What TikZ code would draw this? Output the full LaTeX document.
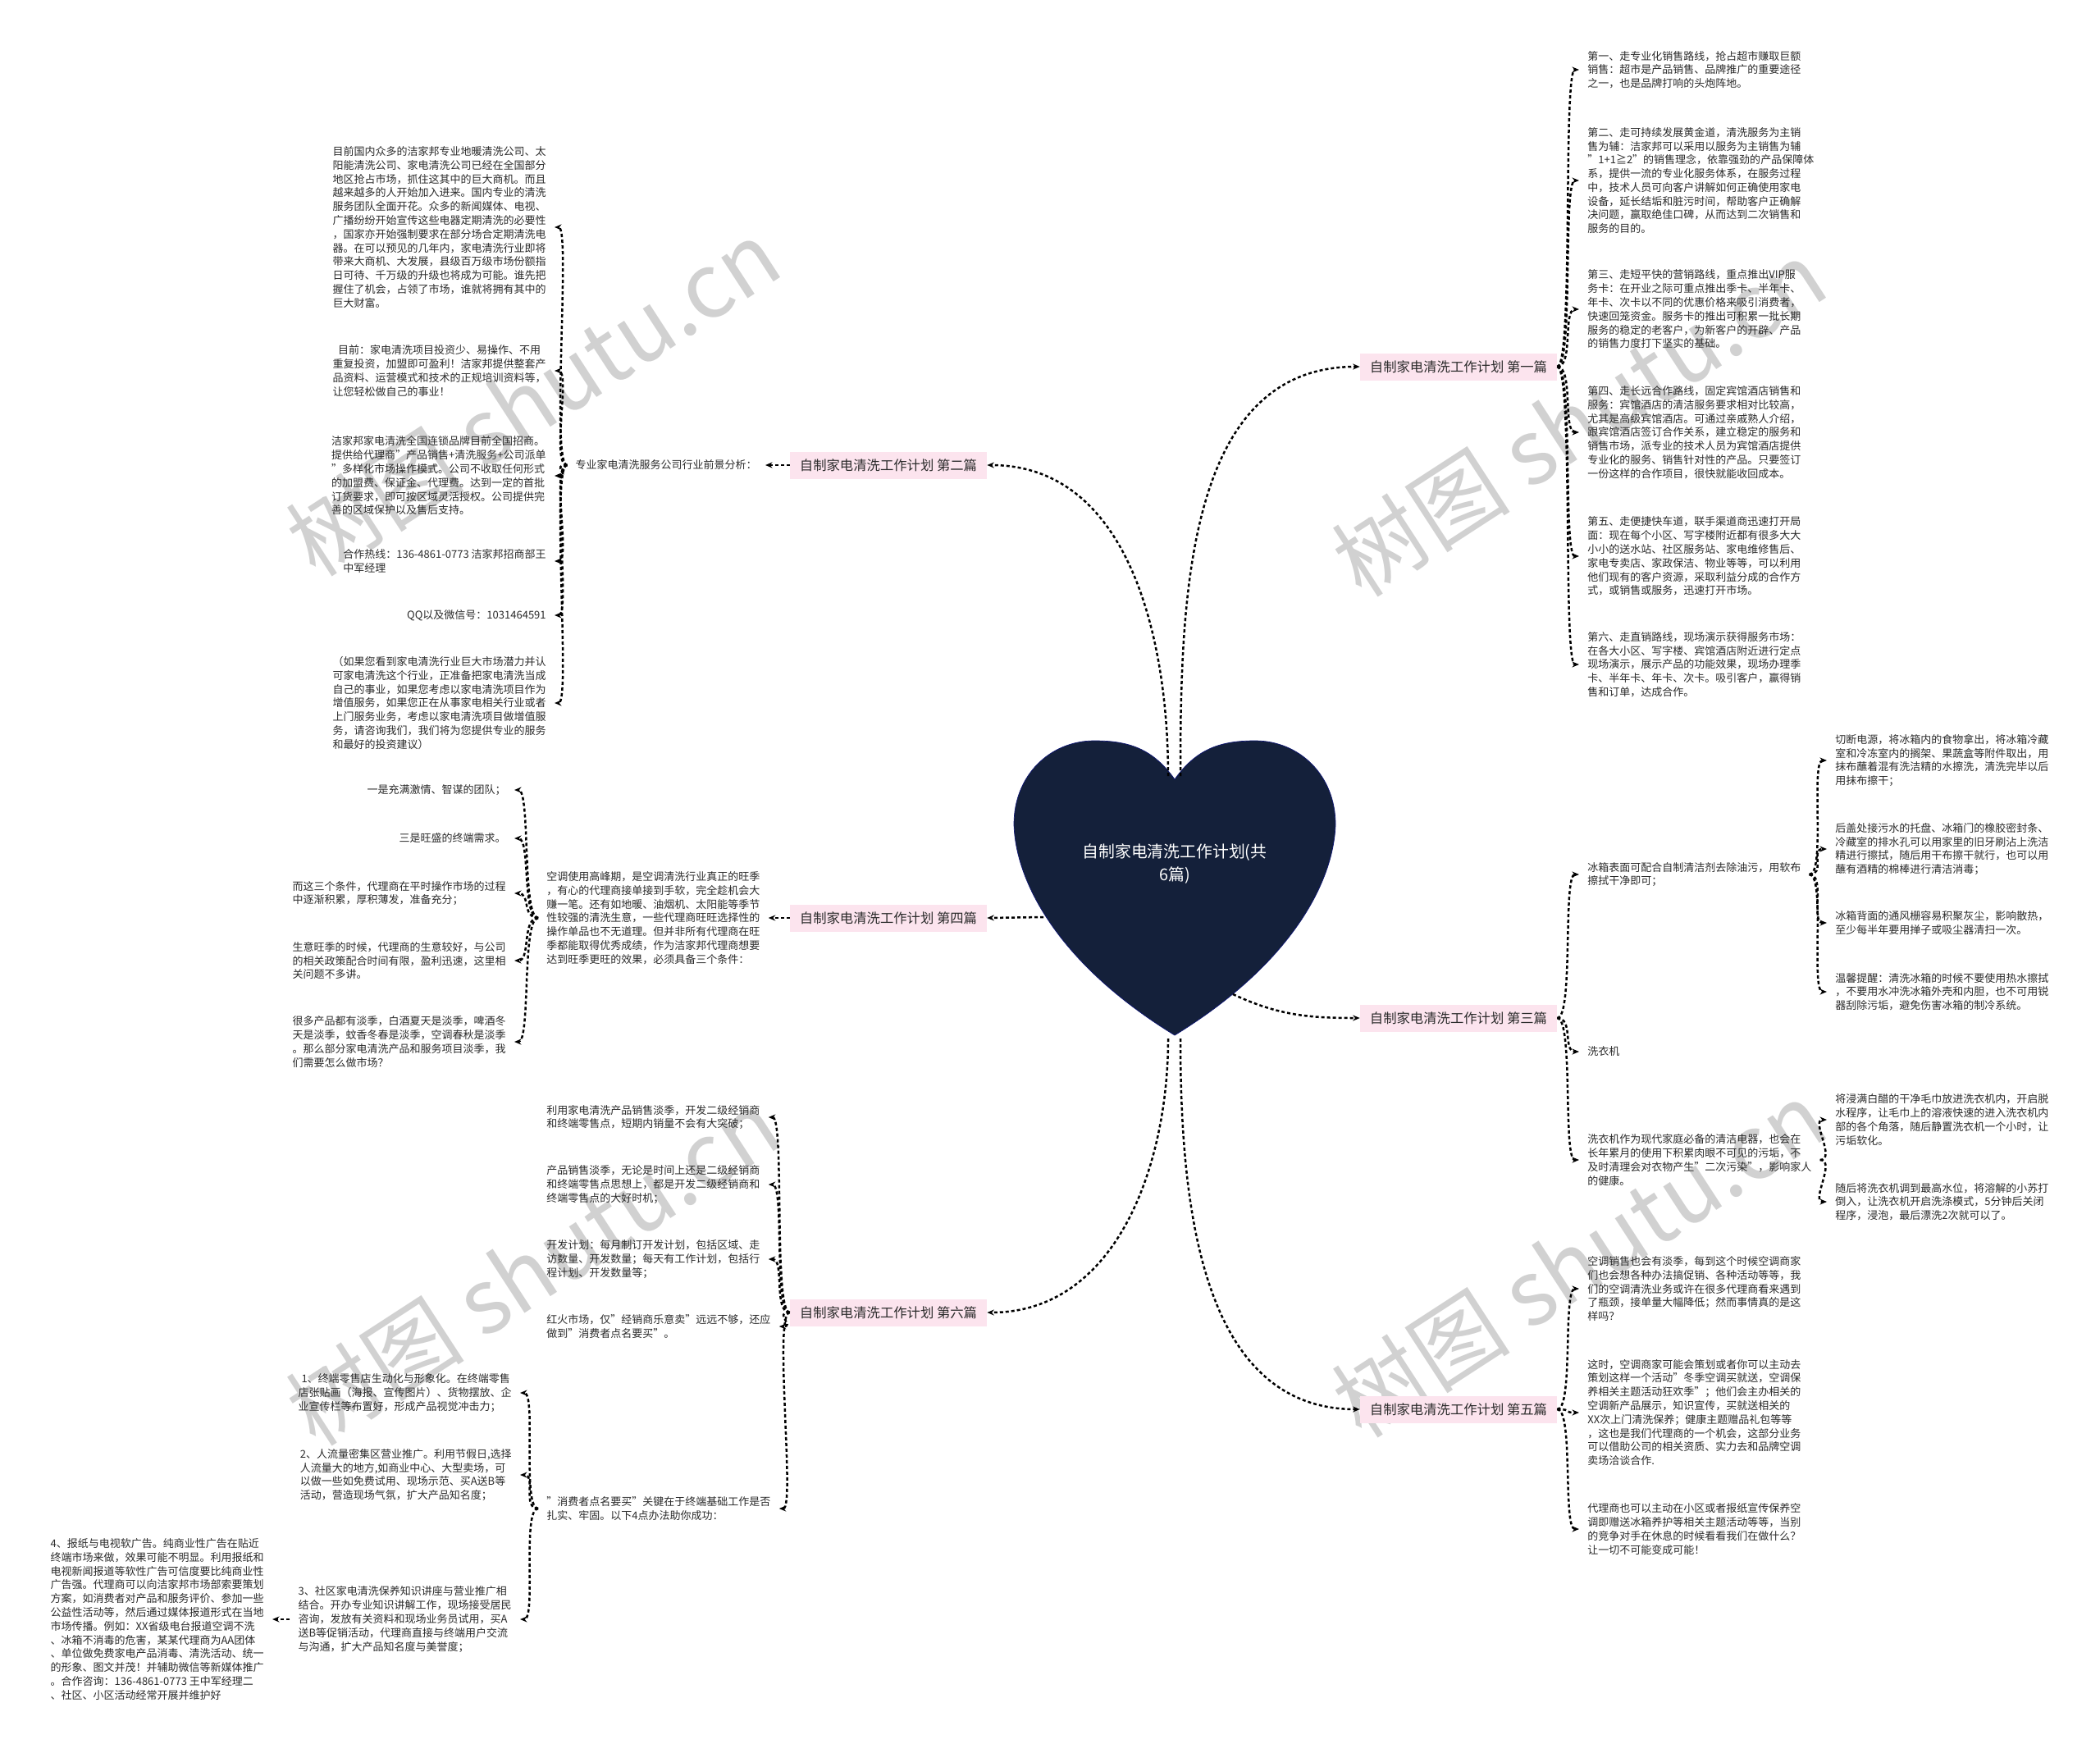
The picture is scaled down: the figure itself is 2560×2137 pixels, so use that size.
\documentclass[tikz,border=0pt]{standalone}
\usepackage{fontspec}
\setmainfont{Noto Sans CJK SC}
\usetikzlibrary{arrows.meta,positioning}
\definecolor{heartfill}{HTML}{14203A}
\definecolor{pinkfill}{HTML}{FCE4EE}
\definecolor{ink}{HTML}{2B2B2B}
\tikzset{
  br/.style = {fill=pinkfill, text=ink, minimum height=0.66cm, minimum width=4.8cm, inner xsep=0.2cm, font=\fontsize{9.3}{11}\selectfont},
  tx/.style = {text=ink, align=left, inner xsep=0.2cm, inner ysep=0.05cm, font=\fontsize{7.4}{9.56}\selectfont},
  wmark/.style = {text=black!18, rotate=33, font=\fontsize{62}{62}\selectfont},
  arrow/.style = {line width=0.05cm, dash pattern=on 0.08cm off 0.06cm, ->, >={Stealth[length=0.17cm,width=0.14cm]}},
  rt/.style = {out=0, in=180, distance=0.4cm},
  lt/.style = {out=180, in=0, distance=0.4cm}
}
\begin{document}
\begin{tikzpicture}[x=0.02cm, y=-0.02cm]
        \useasboundingbox (0,0) rectangle (2560,2137);
        \fill[white] (0,0) rectangle (2560,2137);
        % watermarks
        \node[wmark] (wm1) at (650,485) {树图 shutu.cn};
        \node[wmark] (wm2) at (1925,510) {树图 shutu.cn};
        \node[wmark] (wm3) at (650,1545) {树图 shutu.cn};
        \node[wmark] (wm4) at (1925,1535) {树图 shutu.cn};
        % heart
        \fill[heartfill, draw=heartfill!70!blue, thin] (1432,950) .. controls (1405,912) and (1375,903) .. (1334,903)
          .. controls (1280,903) and (1236,945) .. (1236,1005)
          .. controls (1238,1075) and (1290,1175) .. (1432,1262)
          .. controls (1574,1175) and (1626,1075) .. (1628,1005)
          .. controls (1628,945) and (1584,903) .. (1530,903)
          .. controls (1489,903) and (1459,912) .. (1432,950) -- cycle;
        \node[text=white, align=center, font=\fontsize{11.3}{16}\selectfont] (root) at (1432,1053) {自制家电清洗工作计划(共\\6篇)};
        \coordinate (hTL) at (1424,946);
        \coordinate (hTR) at (1439,946);
        \coordinate (hL) at (1272,1118);
        \coordinate (hR) at (1503,1212);
        \coordinate (hBL) at (1424,1266);
        \coordinate (hBR) at (1439,1266);
        % branches
        \node[br] (p1) at (1778,447) {自制家电清洗工作计划 第一篇};
        \node[br] (p2) at (1083,567) {自制家电清洗工作计划 第二篇};
        \node[br] (p4) at (1083,1119) {自制家电清洗工作计划 第四篇};
        \node[br] (p3) at (1778,1241) {自制家电清洗工作计划 第三篇};
        \node[br] (p6) at (1083,1600) {自制家电清洗工作计划 第六篇};
        \node[br] (p5) at (1778,1718) {自制家电清洗工作计划 第五篇};
        \draw[arrow] (hTR) to[out=90,in=180] (p1.west);
        \draw[arrow] (hTL) to[out=90,in=0] (p2.east);
        \draw[arrow] (hL) -- (p4.east);
        \draw[arrow] (hR) to[out=-25,in=180] (p3.west);
        \draw[arrow] (hBL) to[out=-90,in=0] (p6.east);
        \draw[arrow] (hBR) to[out=-90,in=180] (p5.west);
        % first
        \node[tx, anchor=west] (a1) at (1925,85) {第一、走专业化销售路线，抢占超市赚取巨额\\销售：超市是产品销售、品牌推广的重要途径\\之一，也是品牌打响的头炮阵地。};
        \node[tx, anchor=west] (a2) at (1925,220) {第二、走可持续发展黄金道，清洗服务为主销\\售为辅：洁家邦可以采用以服务为主销售为辅\\"1+1≧2"的销售理念，依靠强劲的产品保障体\\系，提供一流的专业化服务体系，在服务过程\\中，技术人员可向客户讲解如何正确使用家电\\设备，延长结垢和脏污时间，帮助客户正确解\\决问题，赢取绝佳口碑，从而达到二次销售和\\服务的目的。};
        \node[tx, anchor=west] (a3) at (1925,377) {第三、走短平快的营销路线，重点推出VIP服\\务卡：在开业之际可重点推出季卡、半年卡、\\年卡、次卡以不同的优惠价格来吸引消费者，\\快速回笼资金。服务卡的推出可积累一批长期\\服务的稳定的老客户，为新客户的开辟、产品\\的销售力度打下坚实的基础。};
        \node[tx, anchor=west] (a4) at (1925,527) {第四、走长远合作路线，固定宾馆酒店销售和\\服务：宾馆酒店的清洁服务要求相对比较高，\\尤其是高级宾馆酒店。可通过亲戚熟人介绍，\\跟宾馆酒店签订合作关系，建立稳定的服务和\\销售市场，派专业的技术人员为宾馆酒店提供\\专业化的服务、销售针对性的产品。只要签订\\一份这样的合作项目，很快就能收回成本。};
        \node[tx, anchor=west] (a5) at (1925,678) {第五、走便捷快车道，联手渠道商迅速打开局\\面：现在每个小区、写字楼附近都有很多大大\\小小的送水站、社区服务站、家电维修售后、\\家电专卖店、家政保洁、物业等等，可以利用\\他们现有的客户资源，采取利益分成的合作方\\式，或销售或服务，迅速打开市场。};
        \node[tx, anchor=west] (a6) at (1925,810) {第六、走直销路线，现场演示获得服务市场：\\在各大小区、写字楼、宾馆酒店附近进行定点\\现场演示，展示产品的功能效果，现场办理季\\卡、半年卡、年卡、次卡。吸引客户，赢得销\\售和订单，达成合作。};
        \draw[arrow] (p1.east) to[rt] (a1.west);
        \draw[arrow] (p1.east) to[rt] (a2.west);
        \draw[arrow] (p1.east) to[rt] (a3.west);
        \draw[arrow] (p1.east) to[rt] (a4.west);
        \draw[arrow] (p1.east) to[rt] (a5.west);
        \draw[arrow] (p1.east) to[rt] (a6.west);
        % second
        \node[tx, anchor=east] (q0) at (933,567) {专业家电清洗服务公司行业前景分析：};
        \draw[arrow] (p2.west) -- (q0.east);
        \node[tx, anchor=east] (b1) at (676,277) {目前国内众多的洁家邦专业地暖清洗公司、太\\阳能清洗公司、家电清洗公司已经在全国部分\\地区抢占市场，抓住这其中的巨大商机。而且\\越来越多的人开始加入进来。国内专业的清洗\\服务团队全面开花。众多的新闻媒体、电视、\\广播纷纷开始宣传这些电器定期清洗的必要性\\，国家亦开始强制要求在部分场合定期清洗电\\器。在可以预见的几年内，家电清洗行业即将\\带来大商机、大发展，县级百万级市场份额指\\日可待、千万级的升级也将成为可能。谁先把\\握住了机会，占领了市场，谁就将拥有其中的\\巨大财富。};
        \node[tx, anchor=east] (b2) at (676,452) {\hspace{0.5em}目前：家电清洗项目投资少、易操作、不用\\重复投资，加盟即可盈利！洁家邦提供整套产\\品资料、运营模式和技术的正规培训资料等，\\让您轻松做自己的事业！};
        \node[tx, anchor=east] (b3) at (676,580) {洁家邦家电清洗全国连锁品牌目前全国招商。\\提供给代理商"产品销售+清洗服务+公司派单\\"多样化市场操作模式。公司不收取任何形式\\的加盟费、保证金、代理费。达到一定的首批\\订货要求，即可按区域灵活授权。公司提供完\\善的区域保护以及售后支持。};
        \node[tx, anchor=east] (b4) at (676,684) {合作热线：136-4861-0773 洁家邦招商部王\\中军经理};
        \node[tx, anchor=east] (b5) at (676,750) {QQ以及微信号：1031464591};
        \node[tx, anchor=east] (b6) at (676,857) {（如果您看到家电清洗行业巨大市场潜力并认\\可家电清洗这个行业，正准备把家电清洗当成\\自己的事业，如果您考虑以家电清洗项目作为\\增值服务，如果您正在从事家电相关行业或者\\上门服务业务，考虑以家电清洗项目做增值服\\务，请咨询我们，我们将为您提供专业的服务\\和最好的投资建议）};
        \draw[arrow] (q0.west) to[lt] (b1.east);
        \draw[arrow] (q0.west) to[lt] (b2.east);
        \draw[arrow] (q0.west) to[lt] (b3.east);
        \draw[arrow] (q0.west) to[lt] (b4.east);
        \draw[arrow] (q0.west) to[lt] (b5.east);
        \draw[arrow] (q0.west) to[lt] (b6.east);
        % fourth
        \node[tx, anchor=west] (k0) at (656,1119) {空调使用高峰期，是空调清洗行业真正的旺季\\，有心的代理商接单接到手软，完全趁机会大\\赚一笔。还有如地暖、油烟机、太阳能等季节\\性较强的清洗生意，一些代理商旺旺选择性的\\操作单品也不无道理。但并非所有代理商在旺\\季都能取得优秀成绩，作为洁家邦代理商想要\\达到旺季更旺的效果，必须具备三个条件：};
        \draw[arrow] (p4.west) -- (k0.east);
        \node[tx, anchor=east] (c1) at (627,963) {一是充满激情、智谋的团队；};
        \node[tx, anchor=east] (c2) at (627,1022) {三是旺盛的终端需求。};
        \node[tx, anchor=east] (c3) at (627,1089) {而这三个条件，代理商在平时操作市场的过程\\中逐渐积累，厚积薄发，准备充分；};
        \node[tx, anchor=east] (c4) at (627,1171) {生意旺季的时候，代理商的生意较好，与公司\\的相关政策配合时间有限，盈利迅速，这里相\\关问题不多讲。};
        \node[tx, anchor=east] (c5) at (627,1270) {很多产品都有淡季，白酒夏天是淡季，啤酒冬\\天是淡季，蚊香冬春是淡季，空调春秋是淡季\\。那么部分家电清洗产品和服务项目淡季，我\\们需要怎么做市场？};
        \draw[arrow] (k0.west) to[lt] (c1.east);
        \draw[arrow] (k0.west) to[lt] (c2.east);
        \draw[arrow] (k0.west) to[lt] (c3.east);
        \draw[arrow] (k0.west) to[lt] (c4.east);
        \draw[arrow] (k0.west) to[lt] (c5.east);
        % third
        \node[tx, anchor=west] (t1) at (1925,1066) {冰箱表面可配合自制清洁剂去除油污，用软布\\擦拭干净即可；};
        \node[tx, anchor=west] (t2) at (1925,1282) {洗衣机};
        \node[tx, anchor=west] (t3) at (1925,1414) {洗衣机作为现代家庭必备的清洁电器，也会在\\长年累月的使用下积累肉眼不可见的污垢，不\\及时清理会对衣物产生"二次污染"，影响家人\\的健康。};
        \draw[arrow] (p3.east) to[rt] (t1.west);
        \draw[arrow] (p3.east) to[rt] (t2.west);
        \draw[arrow] (p3.east) to[rt] (t3.west);
        \node[tx, anchor=west] (g1) at (2227,927) {切断电源，将冰箱内的食物拿出，将冰箱冷藏\\室和冷冻室内的搁架、果蔬盒等附件取出，用\\抹布蘸着混有洗洁精的水擦洗，清洗完毕以后\\用抹布擦干；};
        \node[tx, anchor=west] (g2) at (2227,1035) {后盖处接污水的托盘、冰箱门的橡胶密封条、\\冷藏室的排水孔可以用家里的旧牙刷沾上洗洁\\精进行擦拭，随后用干布擦干就行，也可以用\\蘸有酒精的棉棒进行清洁消毒；};
        \node[tx, anchor=west] (g3) at (2227,1125) {冰箱背面的通风栅容易积聚灰尘，影响散热，\\至少每半年要用掸子或吸尘器清扫一次。};
        \node[tx, anchor=west] (g4) at (2227,1209) {温馨提醒：清洗冰箱的时候不要使用热水擦拭\\，不要用水冲洗冰箱外壳和内胆，也不可用锐\\器刮除污垢，避免伤害冰箱的制冷系统。};
        \draw[arrow] (t1.east) to[rt] (g1.west);
        \draw[arrow] (t1.east) to[rt] (g2.west);
        \draw[arrow] (t1.east) to[rt] (g3.west);
        \draw[arrow] (t1.east) to[rt] (g4.west);
        \node[tx, anchor=west] (h1) at (2227,1365) {将浸满白醋的干净毛巾放进洗衣机内，开启脱\\水程序，让毛巾上的溶液快速的进入洗衣机内\\部的各个角落，随后静置洗衣机一个小时，让\\污垢软化。};
        \node[tx, anchor=west] (h2) at (2227,1465) {随后将洗衣机调到最高水位，将溶解的小苏打\\倒入，让洗衣机开启洗涤模式，5分钟后关闭\\程序，浸泡，最后漂洗2次就可以了。};
        \draw[arrow] (t3.east) to[rt] (h1.west);
        \draw[arrow] (t3.east) to[rt] (h2.west);
        % sixth
        \node[tx, anchor=west] (m1) at (656,1362) {利用家电清洗产品销售淡季，开发二级经销商\\和终端零售点，短期内销量不会有大突破；};
        \node[tx, anchor=west] (m2) at (656,1444) {产品销售淡季，无论是时间上还是二级经销商\\和终端零售点思想上，都是开发二级经销商和\\终端零售点的大好时机；};
        \node[tx, anchor=west] (m3) at (656,1535) {开发计划：每月制订开发计划，包括区域、走\\访数量、开发数量；每天有工作计划，包括行\\程计划、开发数量等；};
        \node[tx, anchor=west] (m4) at (656,1617) {红火市场，仅"经销商乐意卖"远远不够，还应\\做到"消费者点名要买"。};
        \node[tx, anchor=west] (m5) at (656,1839) {"消费者点名要买"关键在于终端基础工作是否\\扎实、牢固。以下4点办法助你成功：};
        \draw[arrow] (p6.west) to[lt] (m1.east);
        \draw[arrow] (p6.west) to[lt] (m2.east);
        \draw[arrow] (p6.west) to[lt] (m3.east);
        \draw[arrow] (p6.west) to[lt] (m4.east);
        \draw[arrow] (p6.west) to[lt] (m5.east);
        \node[tx, anchor=east] (d1) at (634,1698) {\hspace{0.3em}1、终端零售店生动化与形象化。在终端零售\\店张贴画（海报、宣传图片）、货物摆放、企\\业宣传栏等布置好，形成产品视觉冲击力；};
        \node[tx, anchor=east] (d2) at (634,1798) {2、人流量密集区营业推广。利用节假日,选择\\人流量大的地方,如商业中心、大型卖场，可\\以做一些如免费试用、现场示范、买A送B等\\活动，营造现场气氛，扩大产品知名度；};
        \node[tx, anchor=east] (d3) at (634,1974) {3、社区家电清洗保养知识讲座与营业推广相\\结合。开办专业知识讲解工作，现场接受居民\\咨询，发放有关资料和现场业务员试用，买A\\送B等促销活动，代理商直接与终端用户交流\\与沟通，扩大产品知名度与美誉度；};
        \node[tx, anchor=east] (d4) at (332,1974) {4、报纸与电视软广告。纯商业性广告在贴近\\终端市场来做，效果可能不明显。利用报纸和\\电视新闻报道等软性广告可信度要比纯商业性\\广告强。代理商可以向洁家邦市场部索要策划\\方案，如消费者对产品和服务评价、参加一些\\公益性活动等，然后通过媒体报道形式在当地\\市场传播。例如：XX省级电台报道空调不洗\\、冰箱不消毒的危害，某某代理商为AA团体\\、单位做免费家电产品消毒、清洗活动、统一\\的形象、图文并茂！并辅助微信等新媒体推广\\。合作咨询：136-4861-0773 王中军经理二\\、社区、小区活动经常开展并维护好};
        \draw[arrow] (m5.west) to[lt] (d1.east);
        \draw[arrow] (m5.west) to[lt] (d2.east);
        \draw[arrow] (m5.west) to[lt] (d3.east);
        \draw[arrow] (d3.west) -- (d4.east);
        % fifth
        \node[tx, anchor=west] (e1) at (1925,1571) {空调销售也会有淡季，每到这个时候空调商家\\们也会想各种办法搞促销、各种活动等等，我\\们的空调清洗业务或许在很多代理商看来遇到\\了瓶颈，接单量大幅降低；然而事情真的是这\\样吗？};
        \node[tx, anchor=west] (e2) at (1925,1722) {这时，空调商家可能会策划或者你可以主动去\\策划这样一个活动"冬季空调买就送，空调保\\养相关主题活动狂欢季"；他们会主办相关的\\空调新产品展示，知识宣传，买就送相关的\\XX次上门清洗保养；健康主题赠品礼包等等\\，这也是我们代理商的一个机会，这部分业务\\可以借助公司的相关资质、实力去和品牌空调\\卖场洽谈合作.};
        \node[tx, anchor=west] (e3) at (1925,1864) {代理商也可以主动在小区或者报纸宣传保养空\\调即赠送冰箱养护等相关主题活动等等，当别\\的竞争对手在休息的时候看看我们在做什么？\\让一切不可能变成可能！};
        \draw[arrow] (p5.east) to[rt] (e1.west);
        \draw[arrow] (p5.east) to[rt] (e2.west);
        \draw[arrow] (p5.east) to[rt] (e3.west);
    \end{tikzpicture}
\end{document}
